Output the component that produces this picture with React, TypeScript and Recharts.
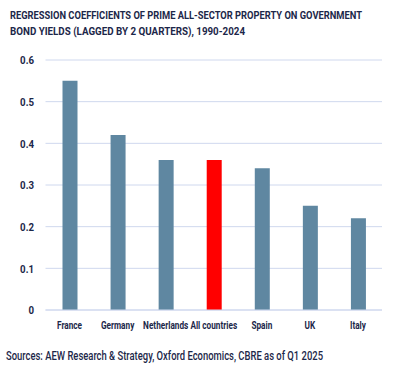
import { BarChart, Bar, XAxis, YAxis, CartesianGrid, Cell } from 'recharts';

const countries = ['France', 'Germany', 'Netherlands', 'All countries', 'Spain', 'UK', 'Italy'];
const coefficients = [0.55, 0.42, 0.36, 0.36, 0.34, 0.25, 0.22];
const yTicks = [0, 0.1, 0.2, 0.3, 0.4, 0.5, 0.6];
const titleLines = [
  'REGRESSION COEFFICIENTS OF PRIME ALL-SECTOR PROPERTY ON GOVERNMENT',
  'BOND YIELDS (LAGGED BY 2 QUARTERS), 1990-2024',
];
const source = 'Sources: AEW Research & Strategy, Oxford Economics, CBRE as of Q1 2025';

const INK = '#1c2749';
const BAR = '#5f87a1';
const HIGHLIGHT = '#ff0000';
const GRID = '#cfd8ee';
const FONT = 'Roboto, "Noto Sans", sans-serif';

const data = countries.map((c, i) => ({ country: c, value: coefficients[i] }));

// condensed look: no narrow font installed, so squeeze horizontally
const XTick = ({ x, y, payload }: any) => (
  <g transform={`translate(${x},${y + 19}) scale(0.8,1)`}>
    <text textAnchor="middle" fill={INK} fontSize={10.3} fontWeight={700} fontFamily={FONT}>
      {payload.value}
    </text>
  </g>
);

const YTick = ({ y, payload }: any) => (
  <g transform={`translate(34,${y + 4.3}) scale(0.88,1)`}>
    <text textAnchor="end" fill={INK} fontSize={11} fontWeight={700} fontFamily={FONT}>
      {payload.value}
    </text>
  </g>
);

export default function App() {
  return (
    <div style={{ position: 'absolute', left: 0, top: 0, width: 403, height: 367, background: '#fff' }}>
      <svg width={403} height={367} style={{ position: 'absolute', left: 0, top: 0 }}>
        <text x={10} y={19} fontSize={11} fontWeight={700} fill={INK} fontFamily={FONT} textLength={352} lengthAdjust="spacingAndGlyphs">
          {titleLines[0]}
        </text>
        <text x={10} y={35} fontSize={11} fontWeight={700} fill={INK} fontFamily={FONT} textLength={235} lengthAdjust="spacingAndGlyphs">
          {titleLines[1]}
        </text>
        <text x={6} y={360} fontSize={12.5} fontWeight={500} fill={INK} fontFamily={FONT} textLength={317} lengthAdjust="spacingAndGlyphs">
          {source}
        </text>
      </svg>
      <div style={{ position: 'absolute', top: 0, left: 0 }}>
        <BarChart width={403} height={340} data={data} margin={{ top: 60, right: 21, bottom: 0, left: 0.5 }}>
          <CartesianGrid stroke={GRID} vertical={false} />
          <XAxis
            dataKey="country"
            axisLine={{ stroke: GRID }}
            tickLine={false}
            tickSize={0}
            tickMargin={0}
            interval={0}
            height={30}
            tick={<XTick />}
          />
          <YAxis
            width={45}
            domain={[0, 0.6]}
            ticks={yTicks}
            axisLine={false}
            tickLine={false}
            tickSize={0}
            tickMargin={0}
            tick={<YTick />}
          />
          <Bar dataKey="value" barSize={15} isAnimationActive={false}>
            {data.map((d) => (
              <Cell key={d.country} fill={d.country === 'All countries' ? HIGHLIGHT : BAR} />
            ))}
          </Bar>
        </BarChart>
      </div>
    </div>
  );
}
